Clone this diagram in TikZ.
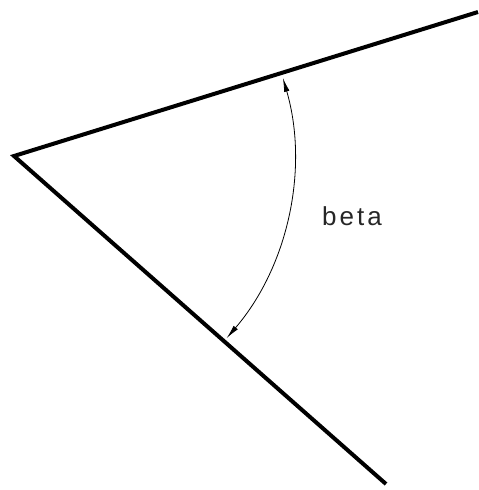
\documentclass[tikz,border=0pt]{standalone}
\usepackage{fontspec}
\newfontfamily\labelfont[LetterSpace=12]{Liberation Sans}
\usetikzlibrary{arrows.meta,calc}
\tikzset{
  leg/.style={line width=4pt, line join=miter, black},
  anglearc/.style={line width=0.8pt, black, {Latex[length=14pt,width=5.5pt]}-{Latex[length=14pt,width=5.5pt]}},
  lbl/.style={font=\labelfont\fontsize{26}{26}\selectfont, inner sep=0pt, text=black!85}
}
\begin{document}
\begin{tikzpicture}[x=1pt,y=1pt]
\useasboundingbox (0,0) rectangle (479,-490);
\coordinate (V) at (14,-156);
\coordinate (U) at (478,-12);
\coordinate (L) at (386,-484);
\draw[leg] (U) -- (V) -- (L);
\coordinate (A) at ($(V)+(16.2:280)$);
\draw[anglearc] (A) arc[start angle=16.2, end angle=-40.6, radius=280pt];
\node[lbl] (beta) at (352,-216) {beta};
\end{tikzpicture}
\end{document}
